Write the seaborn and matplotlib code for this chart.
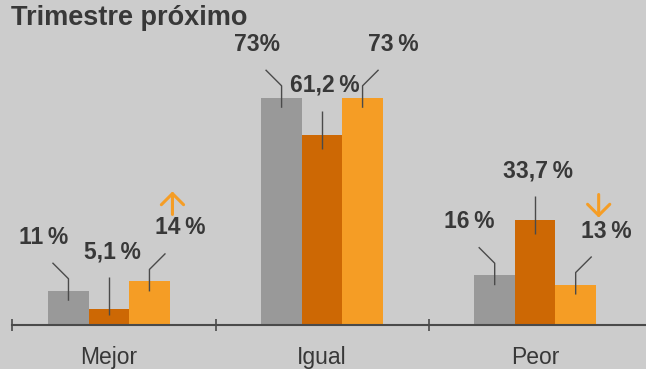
import numpy as np
import pandas as pd
import seaborn as sns
import matplotlib.pyplot as plt

# datos
categorias = ['Mejor', 'Igual', 'Peor']
series = ['Anterior', 'Promedio', 'Actual']
anterior = [11, 73, 16]
promedio = [5.1, 61.2, 33.7]
actual = [14, 73, 13]
etiquetas_anterior = ['11\u2009%', '73%', '16\u2009%']
etiquetas_promedio = ['5,1\u2009%', '61,2\u2009%', '33,7\u2009%']
etiquetas_actual = ['14\u2009%', '73\u2009%', '13\u2009%']
tendencia_actual = ['up', 'up', 'down']

df = pd.DataFrame({
    'categoria': categorias * 3,
    'serie': np.repeat(series, 3),
    'valor': anterior + promedio + actual,
})

fondo = '#cccccc'
colores = ['#999999', '#cd6804', '#f59d25']
texto = '#383838'
linea = '#4a4a4a'

sns.set_theme(style='white')
plt.rcParams['font.family'] = ['Liberation Sans', 'DejaVu Sans']

fig = plt.figure(figsize=(6.46, 3.69), dpi=100, facecolor=fondo)
ax = fig.add_axes([12 / 646, 44 / 369, 634 / 646, 305 / 369])
ax.set_facecolor('none')

sns.barplot(data=df, x='categoria', y='valor', hue='serie', palette=colores,
            width=0.57, saturation=1, linewidth=0, errorbar=None,
            legend=False, ax=ax)

x0 = -0.455
ax.set_xlim(x0, 2.52)
ax.set_ylim(0, 98)
sns.despine(ax=ax, left=True)
ax.spines['bottom'].set_color(linea)
ax.spines['bottom'].set_linewidth(1.5)
ax.set_xlabel('')
ax.set_ylabel('')
ax.set_yticks([])
ax.set_xticks(range(len(categorias)))
ax.set_xticklabels(categorias)
ax.set_xticks([x0, 0.5, 1.5], minor=True)
ax.tick_params(axis='x', which='major', length=0, pad=15, labelsize=16.5,
               labelcolor=texto)
ax.tick_params(axis='x', which='minor', direction='inout', length=9,
               width=1.2, color=linea, bottom=True)


def desplazar(x, y, dx, dy):
    X, Y = ax.transData.transform((x, y))
    return ax.transData.inverted().transform((X + dx, Y + dy))


def leader(x, y, pts):
    xy = np.array([desplazar(x, y, dx, dy) for dx, dy in pts])
    ax.plot(xy[:, 0], xy[:, 1], color=linea, lw=1.0, solid_capstyle='butt')


def etiqueta(x, y, dx, dy, s):
    tx, ty = desplazar(x, y, dx, dy)
    ax.text(tx, ty, s, ha='center', va='bottom', fontsize=16.5,
            fontweight='bold', color=texto)


n = len(categorias)
grupos = [etiquetas_anterior, etiquetas_promedio, etiquetas_actual]
for h, labs in enumerate(grupos):
    for i in range(n):
        p = ax.patches[h * n + i]
        xc = p.get_x() + p.get_width() / 2
        top = p.get_height()
        if h == 0:
            leader(xc, top, [(0, -10), (0, 12), (-16, 28)])
            etiqueta(xc, top, -25, 42, labs[i])
        elif h == 1:
            alto = ax.transData.transform((xc, top))[1] - ax.transData.transform((xc, 0))[1]
            d0 = max(-14, -alto + 10)
            leader(xc, top, [(0, d0), (0, d0 + 38)])
            etiqueta(xc, top, 3, d0 + 52, labs[i])
        else:
            leader(xc, top, [(0, -10), (0, 12), (16, 28)])
            etiqueta(xc, top, 31, 42, labs[i])
            a = desplazar(xc, top, 23, 67)
            b = desplazar(xc, top, 23, 90)
            tail, head = (a, b) if tendencia_actual[i] == 'up' else (b, a)
            ax.annotate('', xy=head, xytext=tail,
                        arrowprops=dict(arrowstyle='->,head_length=0.8,head_width=0.8',
                                        color=colores[2], lw=2.2, shrinkA=0,
                                        shrinkB=0, mutation_scale=10))

fig.text(11 / 646, 1 - 5 / 369, 'Trimestre próximo', ha='left', va='top',
         fontsize=19.5, fontweight='bold', color=texto)

fig.savefig('out.png', dpi=100, facecolor=fondo)
